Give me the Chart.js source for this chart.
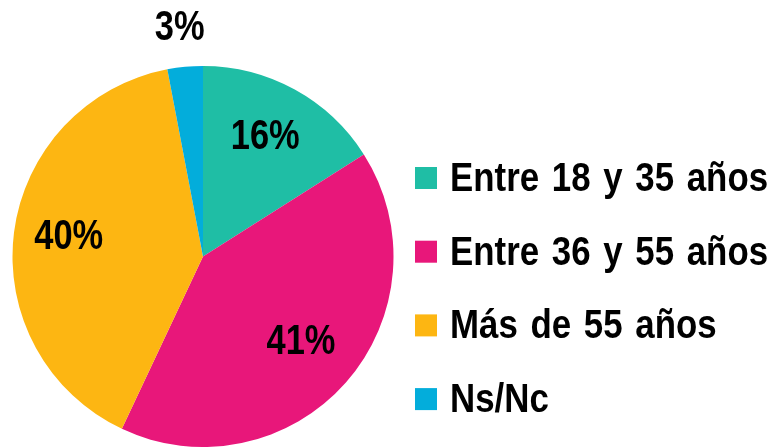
<!DOCTYPE html>
<html>
<head>
<meta charset="utf-8">
<script src="https://cdn.jsdelivr.net/npm/chart.js@4/dist/chart.umd.min.js"></script>
<style>
  html, body { margin: 0; padding: 0; background: #fff; }
  #chart { display: block; }
</style>
</head>
<body>
<canvas id="chart" width="777" height="447"></canvas>
<script>
const categories = ["Entre 18 y 35 años", "Entre 36 y 55 años", "Más de 55 años", "Ns/Nc"];
const percents = [16, 41, 40, 3];
const colors = ["#1FBEA5", "#E8177A", "#FDB612", "#03ADDB"];

const FONT = '"Liberation Sans", Arial, sans-serif';

// draws text squeezed horizontally (the original uses a narrow bold face)
function squeezedText(ctx, text, x, y, size, sx, align, wordGap) {
  ctx.save();
  ctx.font = "bold " + size + "px " + FONT;
  ctx.fillStyle = "#000";
  ctx.textBaseline = "alphabetic";
  if (wordGap) ctx.wordSpacing = (wordGap / sx) + "px";
  const w = ctx.measureText(text).width * sx;
  const left = align === "center" ? x - w / 2 : x;
  ctx.translate(left, y);
  ctx.scale(sx, 1);
  ctx.textAlign = "left";
  ctx.fillText(text, 0, 0);
  ctx.restore();
}

const sliceLabels = {
  id: "sliceLabels",
  afterDatasetsDraw(chart) {
    const ctx = chart.ctx;
    const meta = chart.getDatasetMeta(0);
    meta.data.forEach((arc, i) => {
      const p = arc.getProps(["x", "y", "startAngle", "endAngle", "outerRadius"], true);
      const mid = (p.startAngle + p.endAngle) / 2;
      const small = percents[i] < 5;
      const r = small ? p.outerRadius + 36 : p.outerRadius * 0.70;
      const cx = p.x + Math.cos(mid) * r;
      const cy = p.y + Math.sin(mid) * r;
      squeezedText(ctx, percents[i] + "%", cx - 2, cy + 9, 42, 0.82, "center");
    });
  }
};

const sideLegend = {
  id: "sideLegend",
  afterDraw(chart) {
    const ctx = chart.ctx;
    const x0 = 415, box = 22, textX = 450;
    const firstBase = 191, step = 73.7;
    categories.forEach((name, i) => {
      const base = firstBase + i * step;
      ctx.fillStyle = colors[i];
      ctx.fillRect(x0, base - 13 - box / 2, box, box);
      squeezedText(ctx, name, textX, base, 41, 0.85, "left", 3);
    });
  }
};

new Chart(document.getElementById("chart"), {
  type: "pie",
  data: {
    labels: categories,
    datasets: [{
      data: percents,
      backgroundColor: colors,
      borderWidth: 0
    }]
  },
  options: {
    responsive: false,
    animation: false,
    layout: { padding: { left: 11, right: 382, top: 66, bottom: 0 } },
    plugins: {
      legend: { display: false },
      tooltip: { enabled: false }
    }
  },
  plugins: [sliceLabels, sideLegend]
});
</script>
</body>
</html>
